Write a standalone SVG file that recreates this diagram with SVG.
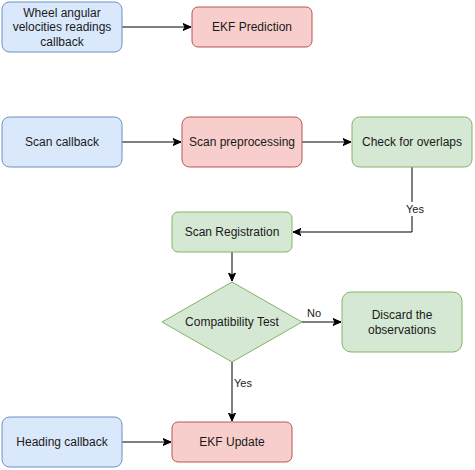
<svg xmlns="http://www.w3.org/2000/svg" width="475" height="470" viewBox="0 0 475 470">
<style>
.blue{fill:#dae8fc;stroke:#6c8ebf;stroke-width:1}
.red{fill:#f8cecc;stroke:#b85450;stroke-width:1}
.green{fill:#d5e8d4;stroke:#82b366;stroke-width:1}
text{font-family:"Liberation Sans",Arial,Helvetica,sans-serif;font-size:12px;fill:#1a1a1a;text-anchor:middle}
.lbl{font-size:11px}
.edge{fill:none;stroke:#000;stroke-width:1;marker-end:url(#arr)}
</style>
<defs>
<marker id="arr" markerUnits="userSpaceOnUse" markerWidth="10" markerHeight="10" refX="8" refY="4" orient="auto">
<path d="M0,0.5 L8,4 L0,7.5 L2,4 Z" fill="#000" stroke="#000" stroke-width="1"/>
</marker>
</defs>
<rect width="475" height="470" fill="#fff"/>
<g id="connectors">
<path class="edge" d="M122,27 L191,27"/>
<path class="edge" d="M122,142 L181,142"/>
<path class="edge" d="M302,142 L351,142"/>
<path class="edge" d="M412,167 L412,232 L293,232"/>
<path class="edge" d="M232,252 L232,281"/>
<path class="edge" d="M302,322 L341,322"/>
<path class="edge" d="M232,362 L232,421"/>
<path class="edge" d="M122,442 L171,442"/>
<rect x="404" y="202" width="18" height="14" fill="#fff"/>
<text class="lbl" x="415" y="213">Yes</text>
<text class="lbl" x="314" y="317">No</text>
<text class="lbl" x="243" y="387">Yes</text>
</g>
<g id="wheel">
<rect class="blue" x="2" y="2" width="120" height="50" rx="7.5"/>
<text x="62" y="17">Wheel angular</text>
<text x="62" y="31">velocities readings</text>
<text x="62" y="46">callback</text>
</g>
<g id="ekf-prediction">
<rect class="red" x="192" y="7" width="120" height="40" rx="6"/>
<text x="252" y="31">EKF Prediction</text>
</g>
<g id="scan-callback">
<rect class="blue" x="2" y="117" width="120" height="50" rx="7.5"/>
<text x="62" y="146">Scan callback</text>
</g>
<g id="scan-preprocessing">
<rect class="red" x="182" y="117" width="120" height="50" rx="7.5"/>
<text x="242" y="146">Scan preprocessing</text>
</g>
<g id="check-overlaps">
<rect class="green" x="352" y="117" width="120" height="50" rx="7.5"/>
<text x="412" y="146">Check for overlaps</text>
</g>
<g id="scan-registration">
<rect class="green" x="172" y="212" width="120" height="40" rx="6"/>
<text x="232" y="236">Scan Registration</text>
</g>
<g id="compatibility-test">
<polygon class="green" points="232,282 302,322 232,362 162,322"/>
<text x="232" y="326">Compatibility Test</text>
</g>
<g id="discard">
<rect class="green" x="342" y="292" width="120" height="60" rx="9"/>
<text x="402" y="319">Discard the</text>
<text x="402" y="334">observations</text>
</g>
<g id="heading-callback">
<rect class="blue" x="2" y="417" width="120" height="50" rx="7.5"/>
<text x="62" y="446">Heading callback</text>
</g>
<g id="ekf-update">
<rect class="red" x="172" y="422" width="120" height="40" rx="6"/>
<text x="232" y="446">EKF Update</text>
</g>
</svg>
